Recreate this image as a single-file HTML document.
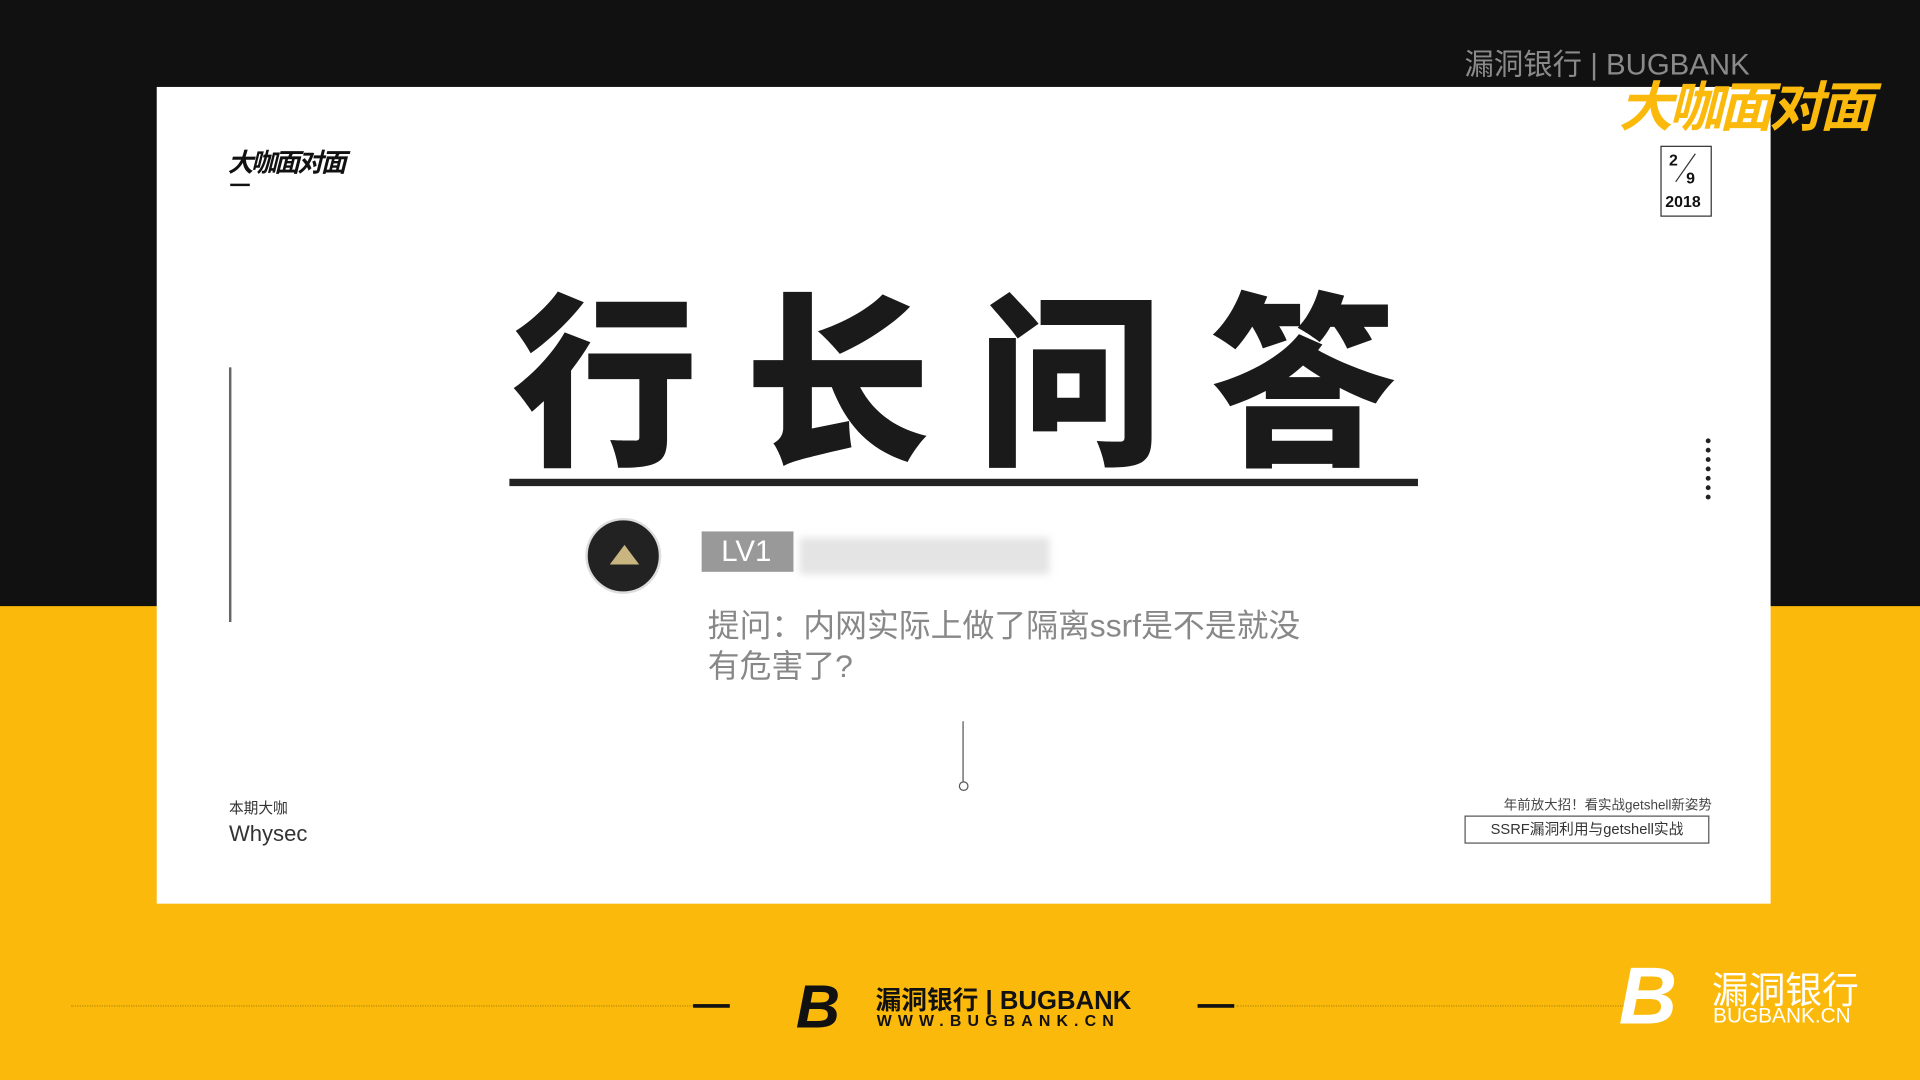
<!DOCTYPE html>
<html><head><meta charset="utf-8"><style>
html,body{margin:0;padding:0;width:1920px;height:1080px;overflow:hidden;background:#111}
#s{position:absolute;left:0;top:0;width:1568px;height:882px;transform:scale(1.22449);transform-origin:0 0;font-family:"Liberation Sans","Noto Sans CJK SC",sans-serif}
.a{position:absolute}
</style></head><body>
<div id="s">
<div class="a" style="left:0;top:0;width:1568px;height:495px;background:#111"></div>
<div class="a" style="left:0;top:495px;width:1568px;height:387px;background:#FBBA0B"></div>
<div class="a" style="left:1196px;top:33px;color:#8a8a8a;font-size:24px;white-space:nowrap">漏洞银行 | BUGBANK</div>
<div class="a" style="left:128px;top:71px;width:1318px;height:667px;background:#fff">
 <div class="a" style="left:58px;top:46px;font-size:21px;font-weight:bold;font-style:italic;color:#111;letter-spacing:-2px">大咖面对面</div>
 <div class="a" style="left:60px;top:79px;width:16px;height:2px;background:#111"></div>
 <div class="a" style="left:1228px;top:48px;width:40px;height:56px;border:1px solid #333;font-size:13px;font-weight:bold;color:#111">
  <span class="a" style="left:6px;top:3px">2</span><span class="a" style="left:20px;top:18px">9</span><span class="a" style="left:3px;top:37px">2018</span>
  <div class="a" style="left:19px;top:3px;width:1px;height:28px;background:#333;transform:rotate(35deg)"></div></div>
 <div class="a" style="left:59px;top:229px;width:2px;height:208px;background:#666"></div>
 <div class="a" style="left:290px;top:160px;font-size:152px;font-weight:900;color:#1a1a1a;letter-spacing:38px;line-height:170px;white-space:nowrap">行长问答</div>
 <div class="a" style="left:288px;top:320px;width:742px;height:6px;background:#222"></div>
 <div class="a" style="left:1265px;top:287px;width:4px;height:50px;border-left:4px dotted #222"></div>
 <div class="a" style="left:350px;top:352px;width:58px;height:58px;border-radius:50%;background:#222;border:2px solid #ddd"><div class="a" style="left:18px;top:20px;width:0;height:0;border-left:12px solid transparent;border-right:12px solid transparent;border-bottom:16px solid #c9b580"></div></div>
 <div class="a" style="left:445px;top:363px;width:75px;height:33px;background:#999;color:#fff;font-size:24px;line-height:33px;padding-left:16px;box-sizing:border-box">LV1</div>
 <div class="a" style="left:525px;top:368px;width:204px;height:30px;background:#e4e4e4;filter:blur(3px)"></div>
 <div class="a" style="left:450px;top:424px;font-size:26px;color:#888;line-height:33px;width:560px">提问：内网实际上做了隔离ssrf是不是就没<br>有危害了?</div>
 <div class="a" style="left:658px;top:518px;width:1px;height:50px;background:#555"></div>
 <div class="a" style="left:655px;top:567px;width:6px;height:6px;border:1px solid #555;border-radius:50%"></div>
 <div class="a" style="left:59px;top:580px;font-size:12px;color:#333">本期大咖</div>
 <div class="a" style="left:59px;top:600px;font-size:18px;color:#333">Whysec</div>
 <div class="a" style="right:48px;top:578px;font-size:11px;color:#444;white-space:nowrap">年前放大招！看实战getshell新姿势</div>
 <div class="a" style="left:1068px;top:595px;width:200px;height:23px;border:1px solid #555;box-sizing:border-box;font-size:12px;color:#333;text-align:center;line-height:21px">SSRF漏洞利用与getshell实战</div>
</div>
<div class="a" style="left:1322px;top:52px;color:#FBBA0B;font-size:44px;font-weight:bold;font-style:italic;white-space:nowrap;letter-spacing:-3px;z-index:5">大咖面对面</div>
<div class="a" style="left:58px;top:821px;width:530px;border-top:1px dotted #b88b00"></div>
<div class="a" style="left:566px;top:820px;width:30px;height:3px;background:#111"></div>
<div class="a" style="left:978px;top:820px;width:30px;height:3px;background:#111"></div>
<div class="a" style="left:1010px;top:821px;width:320px;border-top:1px dotted #b88b00"></div>
<div class="a" style="left:650px;top:797px;font-size:50px;font-weight:900;font-style:italic;color:#111;line-height:50px">B</div>
<div class="a" style="left:715px;top:801px;font-size:21px;font-weight:bold;color:#111;white-space:nowrap">漏洞银行 | BUGBANK</div>
<div class="a" style="left:716px;top:826px;font-size:13px;font-weight:bold;color:#111;letter-spacing:5px;white-space:nowrap">WWW.BUGBANK.CN</div>
<div class="a" style="left:1322px;top:780px;font-size:66px;font-weight:900;font-style:italic;color:#fff;line-height:66px">B</div>
<div class="a" style="left:1398px;top:784px;font-size:30px;color:#fff;white-space:nowrap">漏洞银行</div>
<div class="a" style="left:1399px;top:820px;font-size:17px;color:#fff;white-space:nowrap">BUGBANK.CN</div>
</div>
</body></html>
